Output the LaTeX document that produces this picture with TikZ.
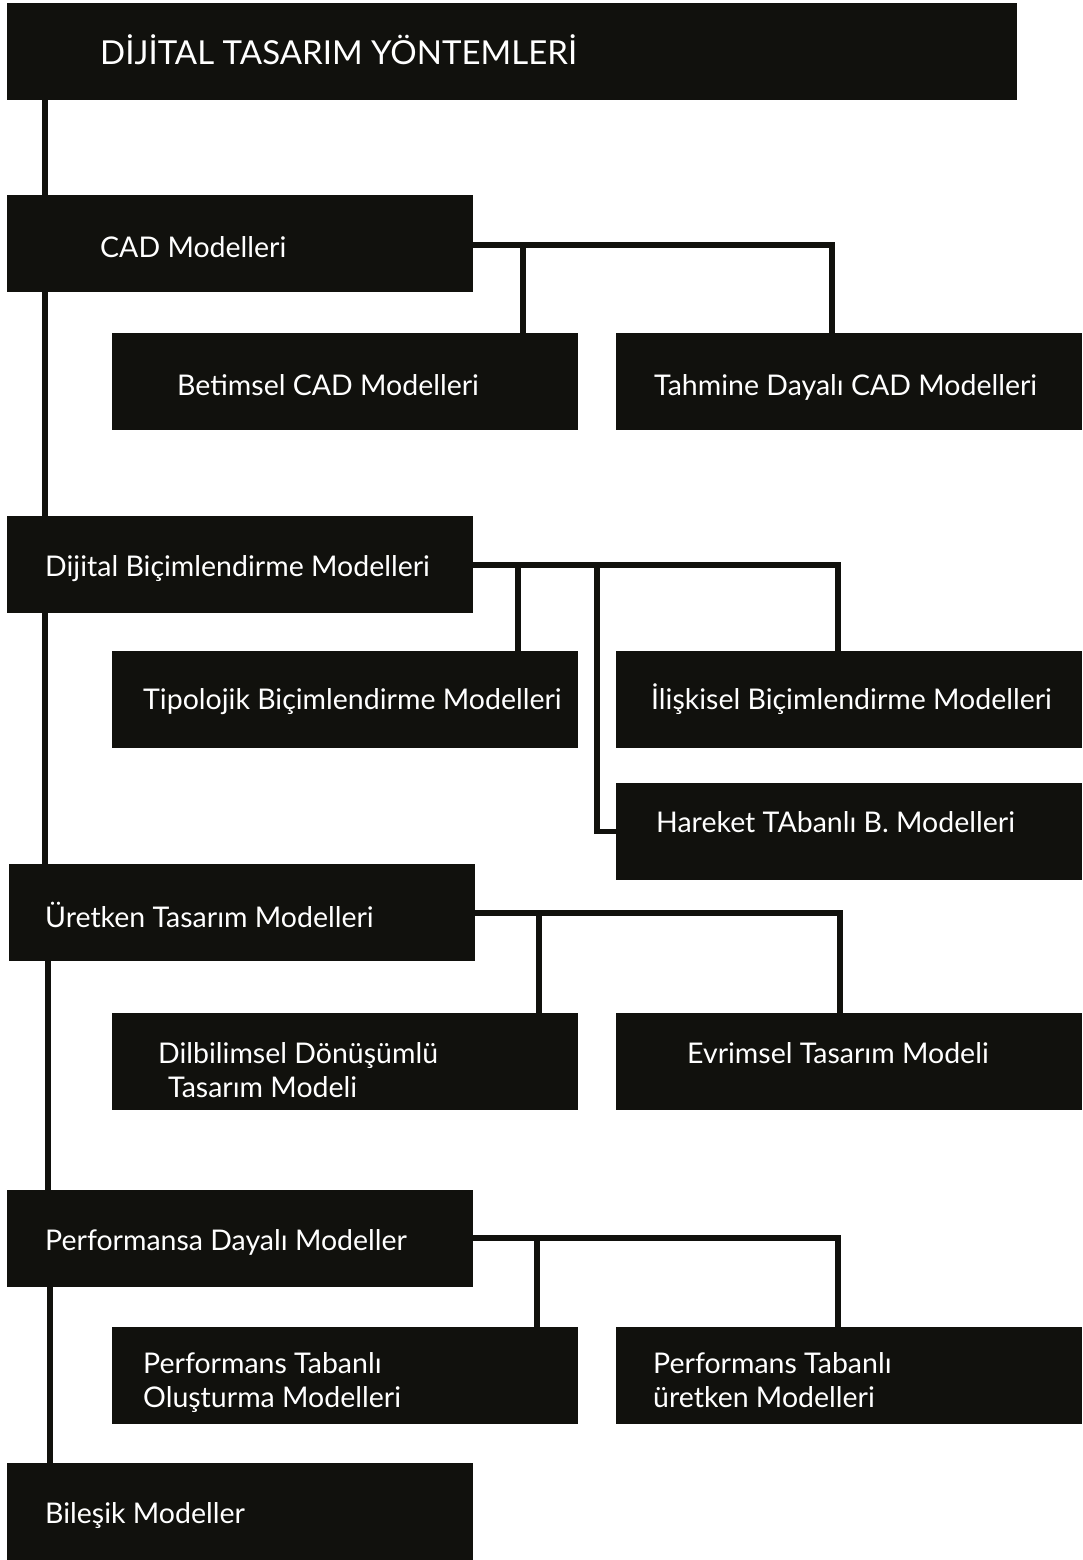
\documentclass[tikz,border=0pt]{standalone}
\usepackage{fontspec}
\setmainfont{Lato}
\definecolor{boxc}{RGB}{17,17,13}
\tikzset{
  box/.style={fill=boxc, draw=none, minimum width=466pt, minimum height=97pt, inner sep=0pt, anchor=north west},
  lbl/.style={text=white, anchor=base west, inner sep=0pt, font=\fontsize{28.5}{33}\selectfont},
  conn/.style={line width=5.5pt, draw=boxc, line join=miter, line cap=butt}
}
\begin{document}
\begin{tikzpicture}[x=1pt,y=-1pt]
\useasboundingbox (0,0) rectangle (1082,1560);
% boxes
\node[box, minimum width=1010pt] (title) at (7,3) {};
\node[box] (cad) at (7,195) {};
\node[box] (bet) at (112,333) {};
\node[box] (tah) at (616,333) {};
\node[box] (dij) at (7,516) {};
\node[box] (tip) at (112,651) {};
\node[box] (ili) at (616,651) {};
\node[box] (har) at (616,783) {};
\node[box] (ure) at (9,864) {};
\node[box] (dil) at (112,1013) {};
\node[box] (evr) at (616,1013) {};
\node[box] (per) at (7,1190) {};
\node[box] (pto) at (112,1327) {};
\node[box] (ptu) at (616,1327) {};
\node[box] (bil) at (7,1463) {};
% labels
\node[lbl, font=\fontsize{33}{38}\selectfont] (ttitle) at (100,65) {DİJİTAL TASARIM YÖNTEMLERİ};
\node[lbl] (tcad) at (100,257) {CAD Modelleri};
\node[lbl] (tbet) at (177,395) {Betimsel CAD Modelleri};
\node[lbl] (ttah) at (654,395) {Tahmine Dayalı CAD Modelleri};
\node[lbl] (tdij) at (45,576) {Dijital Biçimlendirme Modelleri};
\node[lbl] (ttip) at (143,709) {Tipolojik Biçimlendirme Modelleri};
\node[lbl] (tili) at (651,709) {İlişkisel Biçimlendirme Modelleri};
\node[lbl] (thar) at (656,832) {Hareket TAbanlı B. Modelleri};
\node[lbl] (ture) at (45,927) {Üretken Tasarım Modelleri};
\node[lbl] (tdil1) at (158,1063) {Dilbilimsel Dönüşümlü};
\node[lbl] (tdil2) at (168,1097) {Tasarım Modeli};
\node[lbl] (tevr) at (687,1063) {Evrimsel Tasarım Modeli};
\node[lbl] (tper) at (45,1250) {Performansa Dayalı Modeller};
\node[lbl] (tpto1) at (143,1373) {Performans Tabanlı};
\node[lbl] (tpto2) at (143,1407) {Oluşturma Modelleri};
\node[lbl] (tptu1) at (653,1373) {Performans Tabanlı};
\node[lbl] (tptu2) at (653,1407) {üretken Modelleri};
\node[lbl] (tbil) at (45,1523) {Bileşik Modeller};
% main spine
\coordinate (s1) at (45,0);
\coordinate (s2) at (48,0);
\coordinate (s3) at (50,0);
\draw[conn] (s1 |- title.south) -- (s1 |- cad.north);
\draw[conn] (s1 |- cad.south) -- (s1 |- dij.north);
\draw[conn] (s1 |- dij.south) -- (s1 |- ure.north);
\draw[conn] (s2 |- ure.south) -- (s2 |- per.north);
\draw[conn] (s3 |- per.south) -- (s3 |- bil.north);
% CAD branch
\coordinate (c1a) at (523,245);
\coordinate (c1b) at (832,245);
\draw[conn] (cad.east |- c1b) -- (c1b) -- (c1b |- tah.north);
\draw[conn] (c1a) -- (c1a |- bet.north);
% Dijital branch
\coordinate (c2a) at (518,565);
\coordinate (c2m) at (597,565);
\coordinate (c2b) at (838,565);
\draw[conn] (dij.east |- c2b) -- (c2b) -- (c2b |- ili.north);
\draw[conn] (c2a) -- (c2a |- tip.north);
\draw[conn] (c2m) -- (c2m |- har.west) -- (har.west);
% Uretken branch
\coordinate (c3a) at (539,913);
\coordinate (c3b) at (840,913);
\draw[conn] (ure.east |- c3b) -- (c3b) -- (c3b |- evr.north);
\draw[conn] (c3a) -- (c3a |- dil.north);
% Performans branch
\coordinate (c4a) at (537,1238);
\coordinate (c4b) at (838,1238);
\draw[conn] (per.east |- c4b) -- (c4b) -- (c4b |- ptu.north);
\draw[conn] (c4a) -- (c4a |- pto.north);
\end{tikzpicture}
\end{document}
